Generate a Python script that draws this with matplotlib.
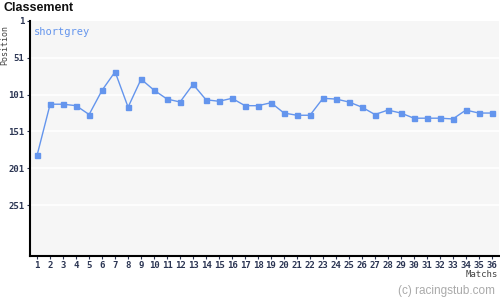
import matplotlib
matplotlib.use("Agg")
import matplotlib.pyplot as plt

matches = list(range(1, 37))
positions = [183, 114, 114, 116, 128, 95, 70, 118, 80, 95, 107, 111, 87, 108,
             110, 106, 116, 116, 112, 126, 129, 129, 106, 107, 111, 118, 128,
             122, 126, 133, 133, 133, 134, 122, 126, 126]
y_ticks = [1, 51, 101, 151, 201, 251]
team = "shortgrey"

line_color = "#6495ed"
text_color = "#2b3553"

fig = plt.figure(figsize=(5, 3), dpi=100)
ax = fig.add_axes([0.06, 0.147, 0.938, 0.783])
ax.set_facecolor("#f6f6f6")

for y in y_ticks[1:]:
    ax.axhline(y, color="white", lw=1.2, zorder=1)

ax.plot(matches, positions, color=line_color, lw=1, marker="s", ms=3.6,
        mec=line_color, mfc=line_color, zorder=3)

ax.set_xlim(0.45, 36.55)
ax.set_ylim(320, 1)
ax.set_yticks(y_ticks)
ax.set_xticks(matches)
ax.tick_params(axis="both", labelsize=6.5, colors=text_color, length=2.5,
               width=0.8, pad=1.5)
for lbl in ax.get_xticklabels() + ax.get_yticklabels():
    lbl.set_family("DejaVu Sans Mono")
    lbl.set_fontweight("bold")

for side in ("top", "right"):
    ax.spines[side].set_visible(False)
for side in ("left", "bottom"):
    ax.spines[side].set_linewidth(1.5)
    ax.spines[side].set_color("black")

ax.text(0.008, 0.975, team, transform=ax.transAxes, color=line_color,
        fontsize=7.5, family="DejaVu Sans Mono", va="top", ha="left")

fig.text(0.006, 0.992, "Classement", fontsize=9, fontweight="bold",
         family="Liberation Sans", va="top", ha="left", color="#111111")
fig.text(0.01, 0.85, "Position", rotation=90, fontsize=6,
         family="DejaVu Sans Mono", color="#444444", ha="center", va="center")
fig.text(0.996, 0.085, "Matchs", fontsize=6.5, family="DejaVu Sans Mono",
         color="#444444", ha="right", va="center")
fig.text(0.99, 0.03, "(c) racingstub.com", fontsize=8.5,
         family="Liberation Sans", color="#aaaaaa", ha="right", va="center")

fig.savefig("out.png", dpi=100)
